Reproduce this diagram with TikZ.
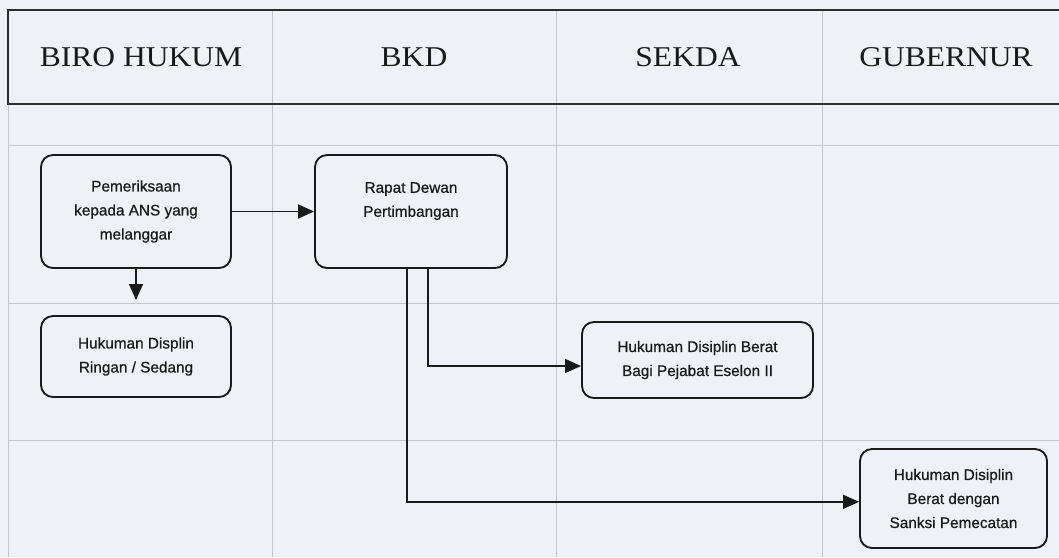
\documentclass[tikz,border=0pt]{standalone}
\usepackage{fontspec}
\setmainfont{Liberation Serif}
\newfontfamily\headfont{Liberation Serif}[FakeStretch=1.1]
\newfontfamily\boxfont{Liberation Sans}[FakeBold=0.7]
\usepackage{xcolor}
\usetikzlibrary{arrows.meta,positioning}
\definecolor{paper}{HTML}{EEF1F6}
\definecolor{ink}{HTML}{1A1A1A}
\definecolor{framec}{HTML}{2E2E2E}
\definecolor{gridc}{HTML}{C3C6CB}

\begin{document}
\begin{tikzpicture}[x=0.75pt,y=-0.75pt,
  box/.style={draw=ink,fill=paper,line width=1.4pt,rounded corners=9pt,inner sep=0pt,
              font=\boxfont\fontsize{11.5}{18}\selectfont,text=ink,align=center},
  arr/.style={-{Triangle[length=12pt,width=10.5pt]},draw=ink,line width=1.1pt},
  head/.style={font=\headfont\fontsize{21.5}{26}\selectfont,text=ink},
  gridline/.style={draw=gridc,line width=0.6pt},
  frame/.style={draw=framec,line width=1.3pt}
]
\fill[paper] (0,0) rectangle (1059,557);
\useasboundingbox (0,0) rectangle (1059,557);
% lanes
\draw[gridline] (8,104) -- (8,557);
\foreach \x in {272,556,822}
  \draw[gridline] (\x,10) -- (\x,557);
\foreach \y in {145,303,440}
  \draw[gridline] (8,\y) -- (1059,\y);
\draw[frame] (1059,10) -- (8,10) -- (8,104) -- (1059,104);
\node[head] (biro) at (141,57) {BIRO HUKUM};
\node[head] (bkd) at (414,57) {BKD};
\node[head] (sekda) at (688,57) {SEKDA};
\node[head] (gub) at (946,57) {GUBERNUR};
% steps
\node[box,minimum width=142.5pt,minimum height=84.75pt] (periksa) at (136,211.5)
  {Pemeriksaan\\kepada ANS yang\\melanggar};
\node[box,minimum width=142.5pt,minimum height=60.75pt] (ringan) at (136,356.5)
  {Hukuman Displin\\Ringan / Sedang};
\node[box,minimum width=144pt,minimum height=84.75pt] (rapat) at (411,211.5)
  {Rapat Dewan\\Pertimbangan\\\mbox{}};
\node[box,minimum width=173.25pt,minimum height=57pt] (eselon) at (697.5,360)
  {Hukuman Disiplin Berat\\Bagi Pejabat Eselon II};
\node[box,minimum width=140.25pt,minimum height=74.25pt] (pecat) at (953.5,498.5)
  {Hukuman Disiplin\\Berat dengan\\Sanksi Pemecatan};
\coordinate (turun) at (136,300);
\draw[arr] (periksa) -- (rapat);
\draw[arr] (periksa.south) -- (turun);
\draw[arr] ([xshift=12.75pt]rapat.south) |- ([yshift=-4.5pt]eselon.west);
\draw[arr] ([xshift=-3pt]rapat.south) |- ([yshift=-2.5pt]pecat.west);
\end{tikzpicture}
\end{document}
